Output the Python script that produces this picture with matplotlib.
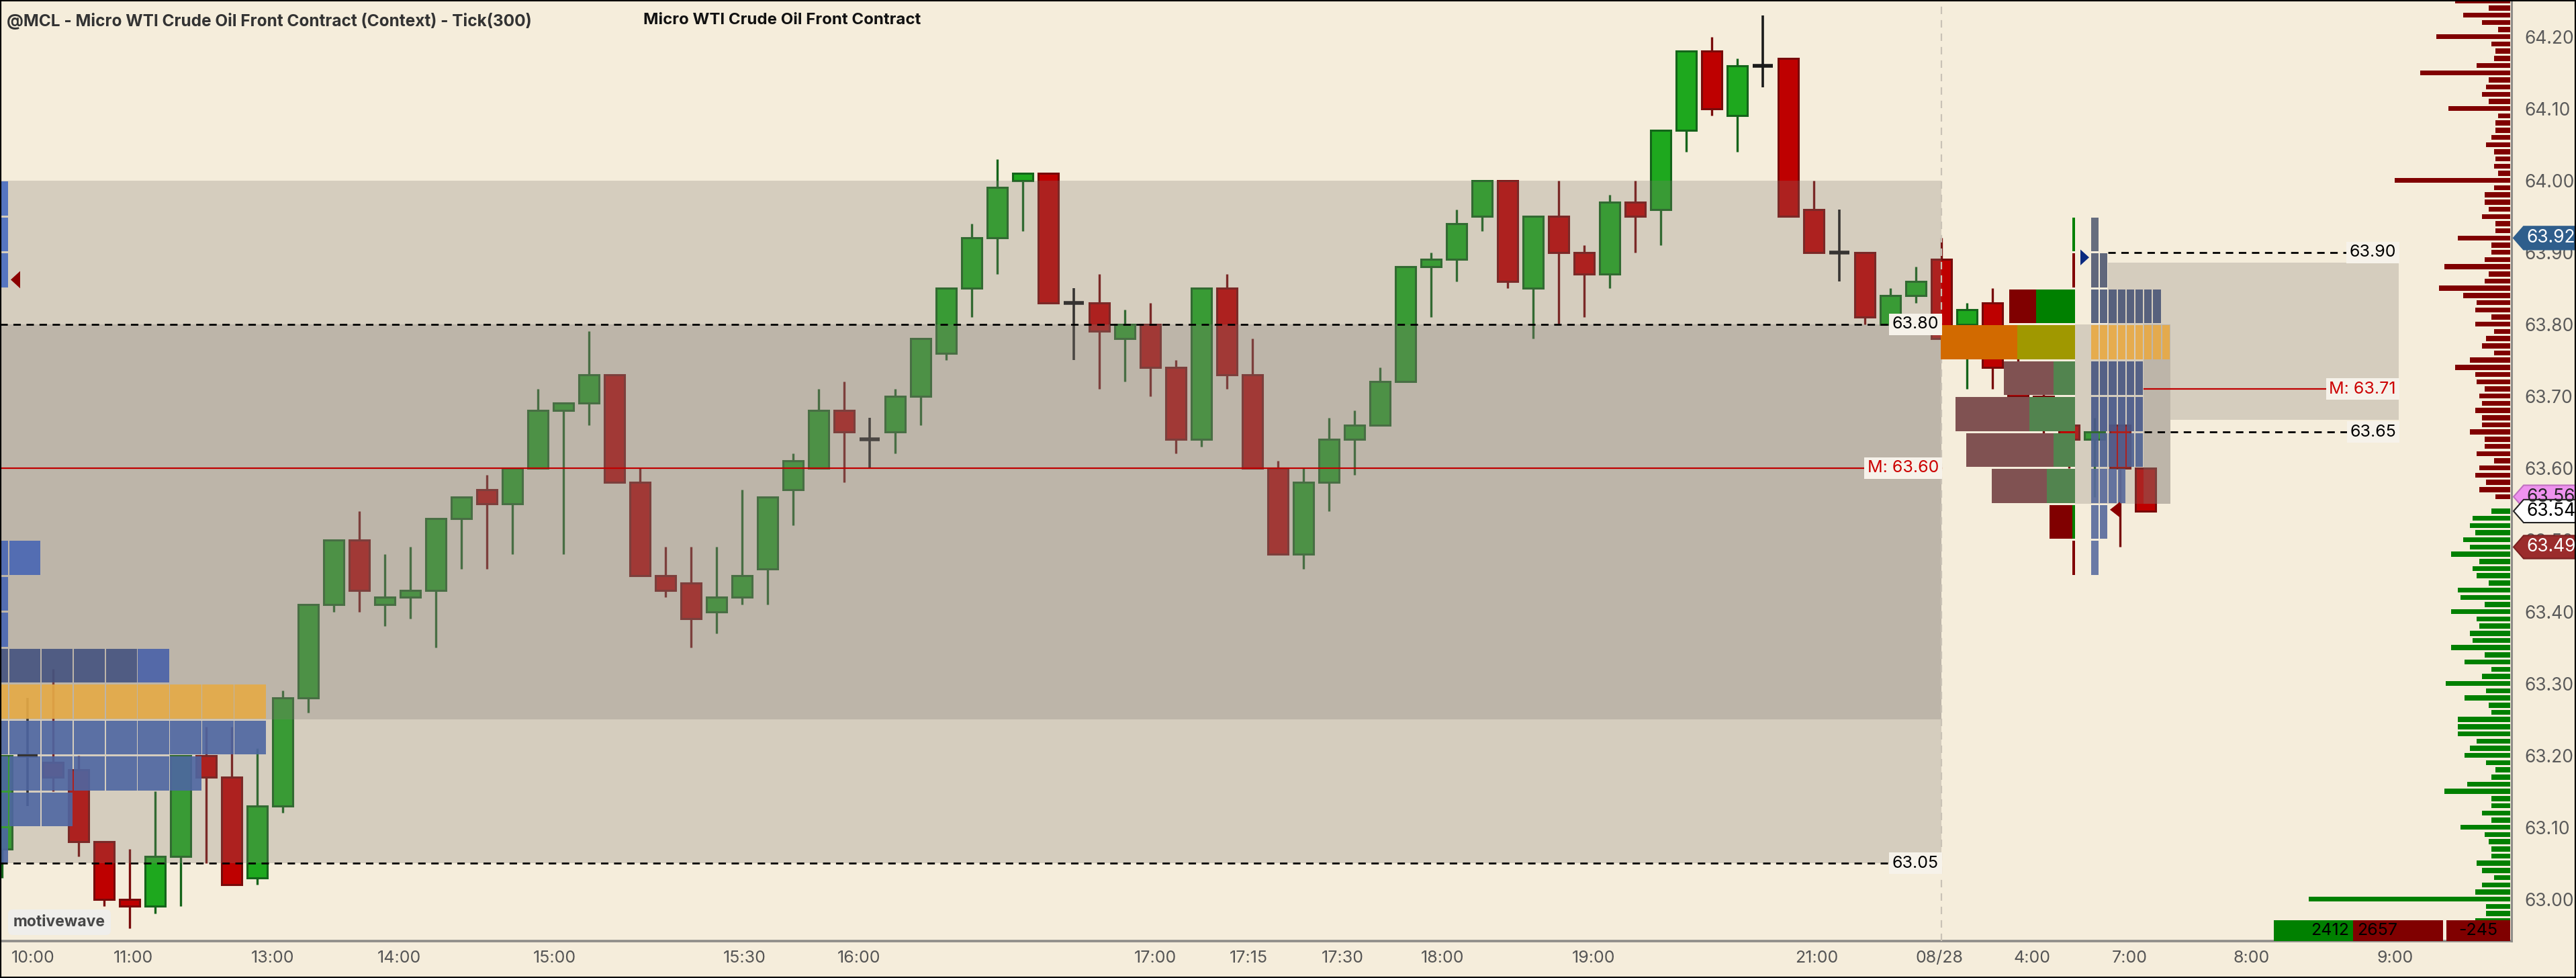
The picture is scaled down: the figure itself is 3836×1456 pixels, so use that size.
import numpy as np
import matplotlib.pyplot as plt
from matplotlib.patches import Rectangle, Polygon

plt.rcParams['font.family'] = ['Inter', 'DejaVu Sans']

# ---------------- data ----------------
opens = [63.07, 63.20, 63.19, 63.18, 63.08, 63.00, 62.99, 63.06, 63.20, 63.17,
         63.03, 63.13, 63.28, 63.41, 63.50, 63.41, 63.42, 63.43, 63.53, 63.57,
         63.55, 63.60, 63.68, 63.69, 63.73, 63.58, 63.45, 63.44, 63.40, 63.42,
         63.46, 63.57, 63.60, 63.68, 63.64, 63.65, 63.70, 63.76, 63.85, 63.92,
         64.00, 64.01, 63.83, 63.83, 63.78, 63.80, 63.74, 63.64, 63.85, 63.73,
         63.60, 63.48, 63.58, 63.64, 63.66, 63.72, 63.88, 63.89, 63.95, 64.00,
         63.85, 63.95, 63.90, 63.87, 63.97, 63.96, 64.07, 64.18, 64.09, 64.16,
         64.17, 63.96, 63.90, 63.90, 63.80, 63.84, 63.89, 63.80, 63.83, 63.74,
         63.70, 63.66, 63.64, 63.66, 63.60]
highs = [63.20, 63.28, 63.32, 63.20, 63.08, 63.07, 63.15, 63.20, 63.24, 63.24,
         63.21, 63.29, 63.41, 63.50, 63.54, 63.48, 63.49, 63.53, 63.56, 63.59,
         63.60, 63.71, 63.69, 63.79, 63.73, 63.60, 63.49, 63.49, 63.49, 63.57,
         63.56, 63.62, 63.71, 63.72, 63.67, 63.71, 63.78, 63.85, 63.94, 64.03,
         64.01, 64.01, 63.85, 63.87, 63.82, 63.83, 63.75, 63.85, 63.87, 63.78,
         63.61, 63.60, 63.67, 63.68, 63.74, 63.88, 63.90, 63.96, 64.00, 64.00,
         63.95, 64.00, 63.91, 63.98, 64.00, 64.07, 64.18, 64.20, 64.17, 64.23,
         64.17, 64.00, 63.96, 63.90, 63.85, 63.88, 63.92, 63.83, 63.85, 63.76,
         63.72, 63.68, 63.67, 63.66, 63.60]
lows = [63.03, 63.13, 63.15, 63.06, 62.99, 62.96, 62.98, 62.99, 63.05, 63.02,
        63.02, 63.12, 63.26, 63.40, 63.40, 63.38, 63.39, 63.35, 63.46, 63.46,
        63.48, 63.60, 63.48, 63.66, 63.58, 63.45, 63.42, 63.35, 63.37, 63.41,
        63.41, 63.52, 63.60, 63.58, 63.60, 63.62, 63.66, 63.75, 63.81, 63.87,
        63.93, 63.83, 63.75, 63.71, 63.72, 63.70, 63.62, 63.63, 63.71, 63.60,
        63.48, 63.46, 63.54, 63.59, 63.66, 63.72, 63.81, 63.86, 63.93, 63.85,
        63.78, 63.80, 63.81, 63.85, 63.90, 63.91, 64.04, 64.09, 64.04, 64.13,
        63.95, 63.90, 63.86, 63.80, 63.80, 63.83, 63.78, 63.71, 63.71, 63.66,
        63.62, 63.60, 63.56, 63.49, 63.54]
closes = [63.20, 63.20, 63.17, 63.08, 63.00, 62.99, 63.06, 63.20, 63.17, 63.02,
          63.13, 63.28, 63.41, 63.50, 63.43, 63.42, 63.43, 63.53, 63.56, 63.55,
          63.60, 63.68, 63.69, 63.73, 63.58, 63.45, 63.43, 63.39, 63.42, 63.45,
          63.56, 63.61, 63.68, 63.65, 63.64, 63.70, 63.78, 63.85, 63.92, 63.99,
          64.01, 63.83, 63.83, 63.79, 63.80, 63.74, 63.64, 63.85, 63.73, 63.60,
          63.48, 63.58, 63.64, 63.66, 63.72, 63.88, 63.89, 63.94, 64.00, 63.86,
          63.95, 63.90, 63.87, 63.97, 63.95, 64.07, 64.18, 64.10, 64.16, 64.16,
          63.95, 63.90, 63.90, 63.81, 63.84, 63.86, 63.78, 63.82, 63.74, 63.70,
          63.66, 63.64, 63.65, 63.60, 63.54]

time_ticks = [1.22, 5.14, 10.61, 15.56, 21.66, 29.11, 33.58, 45.19, 48.85,
              52.53, 56.45, 62.37, 71.11, 75.93, 79.56, 83.37, 88.16, 93.79]
time_labels = ['10:00', '11:00', '13:00', '14:00', '15:00', '15:30', '16:00',
               '17:00', '17:15', '17:30', '18:00', '19:00', '21:00', '08/28',
               '4:00', '7:00', '8:00', '9:00']
price_ticks = [63.00, 63.10, 63.20, 63.30, 63.40, 63.50, 63.60, 63.70,
               63.80, 63.90, 64.00, 64.10, 64.20]

# prior session context levels
ctx_high, ctx_low = 64.00, 63.05
ib_high, ib_low = 63.80, 63.25
ctx_mid = 63.60
session_break = 76.0

# prior-session profile peeking in at the left edge (row low, cells)
prev_rows = [63.95, 63.90, 63.85, 63.45, 63.40, 63.35, 63.30, 63.25, 63.20,
             63.15, 63.10, 63.05]
prev_cells = [1, 1, 1, 2, 1, 1, 6, 9, 9, 7, 3, 1]

# current session volume profile (row low, sell, buy) and TPO counts
cur_rows = [63.90, 63.85, 63.80, 63.75, 63.70, 63.65, 63.60, 63.55, 63.50, 63.45]
cur_sell = [0, 4, 40, 114, 74, 110, 130, 82, 34, 4]
cur_buy = [4, 0, 58, 86, 32, 68, 32, 42, 4, 0]
tpo_counts = [1, 2, 8, 9, 6, 6, 6, 4, 2, 1]
cur_va_high, cur_va_low = 63.80, 63.55
dev_high, dev_low = 63.886, 63.667
dev_top_line, dev_bottom_line, dev_mid = 63.90, 63.65, 63.71

# right-edge volume by price
vbp_prices = np.round(np.arange(64.25, 62.965, -0.01), 2)
vbp_vols = [246, 96, 210, 126, 54, 330, 84, 66, 72, 150, 402, 96, 108, 126, 96,
            276, 54, 66, 66, 84, 108, 72, 66, 72, 54, 516, 72, 114, 114, 96,
            126, 66, 66, 234, 84, 84, 114, 294, 96, 114, 318, 210, 150, 156, 84,
            156, 72, 108, 126, 72, 180, 246, 156, 150, 114, 138, 126, 156, 126,
            126, 180, 114, 114, 150, 72, 138, 156, 108,
            138, 66, 0, 84, 168, 180, 156, 210, 180, 264, 138, 168, 150, 96,
            234, 222, 114, 264, 150, 138, 180, 168, 264, 114, 204, 84, 126, 288,
            108, 204, 96, 84, 234, 234, 234, 150, 180, 204, 108, 66, 84, 192,
            294, 84, 84, 126, 84, 222, 114, 96, 84, 84, 150, 126, 72, 126, 156,
            900, 108, 108, 156]

badges = [(63.92, '63.92', '#2F5E8C', 'white', '#2F5E8C'),
          (63.56, '63.56', '#EE92EE', '#222222', '#C070C0'),
          (63.54, '63.54', 'white', 'black', '#222222'),
          (63.49, '63.49', '#9B2C2C', 'white', '#7A2020')]
stats_values = ['2412', '2657', '-245']

# ---------------- layout helpers (pixel -> bar index) ----------------
X0, PITCH = 2.8, 38.0


def xi(px):
    return (px - X0) / PITCH


BG = '#F5EDDB'
SHADE = '#827A73'
GREEN, GREEN_E = '#1EA81E', '#14641A'
RED, RED_E = '#BE0000', '#780A0A'

fig = plt.figure(figsize=(38.36, 14.56), dpi=100, facecolor=BG)
ax = fig.add_axes([0, 1 - 1401 / 1456, 3740 / 3836, 1399 / 1456])
ax.set_facecolor(BG)
ax.set_xlim(xi(0), xi(3740))
ax.set_ylim(62.9418, 64.2493)

# candles
bw = 0.8
for i, (o, h, l, c) in enumerate(zip(opens, highs, lows, closes)):
    if abs(c - o) < 1e-9:
        ax.plot([i, i], [l, h], color='#1A1A1A', lw=2.6, zorder=2, solid_capstyle='butt')
        ax.plot([i - bw / 2, i + bw / 2], [o, o], color='#1A1A1A', lw=4, zorder=2,
                solid_capstyle='butt')
        continue
    fc, ec = (GREEN, GREEN_E) if c > o else (RED, RED_E)
    ax.plot([i, i], [l, h], color=ec, lw=2.4, zorder=2, solid_capstyle='butt')
    ax.add_patch(Rectangle((i - bw / 2, min(o, c)), bw, abs(c - o), facecolor=fc,
                           edgecolor=ec, lw=2.2, zorder=2.1))

# prior-session context shading (drawn over candles, translucent)
ax.add_patch(Rectangle((xi(0), ctx_low), session_break - xi(0), ctx_high - ctx_low,
                       facecolor=SHADE, alpha=0.28, lw=0, zorder=3))
ax.add_patch(Rectangle((xi(0), ib_low), session_break - xi(0), ib_high - ib_low,
                       facecolor=SHADE, alpha=0.28, lw=0, zorder=3))

# current-session shading
ax.add_patch(Rectangle((xi(3090), cur_va_low), xi(3232) - xi(3090), cur_va_high - cur_va_low,
                       facecolor=SHADE, alpha=0.28, lw=0, zorder=3))
ax.add_patch(Rectangle((xi(3192), cur_va_low), xi(3232) - xi(3192), cur_va_high - cur_va_low,
                       facecolor=SHADE, alpha=0.28, lw=0, zorder=3))
ax.add_patch(Rectangle((xi(3139), cur_va_high), xi(3572) - xi(3139), dev_high - cur_va_high,
                       facecolor=SHADE, alpha=0.28, lw=0, zorder=3))
ax.add_patch(Rectangle((xi(3232), dev_low), xi(3572) - xi(3232), cur_va_high - dev_low,
                       facecolor=SHADE, alpha=0.28, lw=0, zorder=3))

# session divider
ax.axvline(session_break, color='#C9C2B6', lw=1.6, ls=(0, (5, 4)), zorder=3.5)

lbl_font = dict(fontsize=18, va='center', zorder=6)
box = dict(boxstyle='square,pad=0.18', fc='#F6F2EA', ec='none')

# prior session levels
for lvl in (ib_high, ctx_low):
    ax.plot([xi(0), session_break], [lvl, lvl], color='black', lw=2, ls=(0, (4, 3)), zorder=4)
    ax.text(xi(2887), lvl, f'{lvl:.2f}', ha='right', color='black', bbox=box, **lbl_font)
ax.plot([xi(0), session_break], [ctx_mid, ctx_mid], color='#C00000', lw=1.6, zorder=4)
ax.text(xi(2887), ctx_mid, f'M: {ctx_mid:.2f}', ha='right', color='#CC0000', bbox=box, **lbl_font)

# current session levels
ax.plot([xi(3139), xi(3498)], [dev_top_line] * 2, color='black', lw=2, ls=(0, (4, 3)), zorder=4)
ax.plot([xi(3193), xi(3498)], [dev_bottom_line] * 2, color='black', lw=2, ls=(0, (4, 3)), zorder=4)
ax.plot([xi(3193), xi(3473)], [dev_mid] * 2, color='#C00000', lw=1.6, zorder=4)
for lvl in (dev_top_line, dev_bottom_line):
    ax.text(xi(3568), lvl, f'{lvl:.2f}', ha='right', color='black', bbox=box, **lbl_font)
ax.text(xi(3568), dev_mid, f'M: {dev_mid:.2f}', ha='right', color='#CC0000', bbox=box, **lbl_font)

# prior-session profile cells at the left edge
cell_pitch = 47.9 / PITCH
cell_w = 46.4 / PITCH
cell_x0 = xi(-34.1)
for low, n in zip(prev_rows, prev_cells):
    for k in range(n):
        if low == 63.25:
            col = '#E6AA45'
        elif low == 63.30:
            col = '#44537F' if k < 5 else '#4961A8'
        elif low >= 63.85:
            col = '#486CC2'
        elif low >= 63.35:
            col = '#4866B4'
        else:
            col = '#4E66A2'
        ax.add_patch(Rectangle((cell_x0 + k * cell_pitch, low + 0.0015), cell_w, 0.047,
                               facecolor=col, lw=0, alpha=0.9, zorder=5))

# current session volume profile (sell left, buy right, anchored)
anchor = xi(3090)
vscale = 1 / PITCH
for low, s, b in zip(cur_rows, cur_sell, cur_buy):
    if low == 63.75:
        sc, bc = '#D26A00', '#A09800'
    elif 63.55 <= low <= 63.70:
        sc, bc = '#805252', '#52844F'
    else:
        sc, bc = '#800000', '#008000'
    ax.add_patch(Rectangle((anchor - (s + b) * vscale, low + 0.0015), s * vscale, 0.047,
                           facecolor=sc, lw=0, zorder=5))
    ax.add_patch(Rectangle((anchor - b * vscale, low + 0.0015), b * vscale, 0.047,
                           facecolor=bc, lw=0, zorder=5))

# TPO cells
tpo_x0 = xi(3114)
tpo_pitch = 13.2 / PITCH
tpo_w = 11.2 / PITCH
tpo_cols = {63.90: '#5A6276', 63.85: '#535C74', 63.80: '#4C5878', 63.75: '#E8AA45',
            63.70: '#4A5882', 63.65: '#4A5A8A', 63.60: '#4F6292', 63.55: '#5A6C9C',
            63.50: '#5A6C9E', 63.45: '#5E70A2'}
for low, n in zip(cur_rows, tpo_counts):
    for k in range(n):
        ax.add_patch(Rectangle((tpo_x0 + k * tpo_pitch, low + 0.0015), tpo_w, 0.047,
                               facecolor=tpo_cols[low], lw=0, alpha=0.92, zorder=5))

# small markers
ax.add_patch(Polygon([[xi(16), 63.862], [xi(30), 63.874], [xi(30), 63.850]],
                     closed=True, fc='#8B0000', ec='none', zorder=6))
ax.add_patch(Polygon([[xi(3111), 63.893], [xi(3098), 63.904], [xi(3098), 63.882]],
                     closed=True, fc='#0A2A80', ec='none', zorder=6))
ax.add_patch(Polygon([[xi(3142), 63.542], [xi(3157), 63.553], [xi(3157), 63.531]],
                     closed=True, fc='#8B0000', ec='none', zorder=6))

# volume by price on the right edge
vb_right = xi(3738)
vb_scale = 0.333 / PITCH
for p, v in zip(vbp_prices, vbp_vols):
    if v <= 0:
        continue
    col = '#800000' if p >= 63.555 else '#008000'
    ax.add_patch(Rectangle((vb_right - v * vb_scale, p - 0.0035), v * vb_scale, 0.007,
                           facecolor=col, lw=0, zorder=4))

# stats boxes at the bottom right
ylo = ax.get_ylim()[0]
bh = 0.029
for (x_a, x_b, col) in [(3386, 3504, '#008000'), (3504, 3638, '#800000'),
                        (3643, 3738, '#800000')]:
    ax.add_patch(Rectangle((xi(x_a), ylo), xi(x_b) - xi(x_a), bh, facecolor=col,
                           lw=0, zorder=6))
ax.text(xi(3498), ylo + bh / 2, stats_values[0], ha='right', va='center', fontsize=18,
        color='black', zorder=7)
ax.text(xi(3510), ylo + bh / 2, stats_values[1], ha='left', va='center', fontsize=18,
        color='black', zorder=7)
ax.text(xi(3690), ylo + bh / 2, stats_values[2], ha='center', va='center', fontsize=18,
        color='black', zorder=7)

# axes styling
ax.set_yticks(price_ticks)
ax.set_yticklabels([f'{p:.2f}' for p in price_ticks])
ax.yaxis.tick_right()
ax.tick_params(axis='y', length=0, pad=14, labelsize=19, labelcolor='#5A5A5A')
ax.set_xticks(time_ticks)
ax.set_xticklabels(time_labels)
ax.tick_params(axis='x', length=0, pad=10, labelsize=18, labelcolor='#555555')
for s in ('top', 'left'):
    ax.spines[s].set_visible(False)
ax.spines['bottom'].set_color('#8E8C88')
ax.spines['bottom'].set_linewidth(2.6)
ax.spines['right'].set_color('#8E8C88')
ax.spines['right'].set_linewidth(2.2)

# price badges beyond the right axis
hh = 0.016
for p, txt, fc, tc, ec in badges:
    poly = Polygon([[xi(3743), p], [xi(3758), p + hh], [xi(3836), p + hh],
                    [xi(3836), p - hh], [xi(3758), p - hh]], closed=True,
                   fc=fc, ec=ec, lw=1.5, clip_on=False, zorder=8)
    ax.add_patch(poly)
    ax.text(xi(3762), p, txt, ha='left', va='center', fontsize=19, color=tc,
            clip_on=False, zorder=9)

# titles and watermark
fig.text(10 / 3836, 1 - 32 / 1456,
         '@MCL - Micro WTI Crude Oil Front Contract (Context) - Tick(300)',
         fontsize=17.6, fontweight='bold', color='#333333', va='center', ha='left')
fig.text(958 / 3836, 1 - 30 / 1456, 'Micro WTI Crude Oil Front Contract',
         fontsize=17.3, fontweight='bold', color='#111111', va='center', ha='left')
fig.text(20 / 3836, 1 - 1373 / 1456, 'motivewave', fontsize=16.5, fontweight='bold',
         color='#474747', va='center', ha='left', zorder=10,
         bbox=dict(boxstyle='round,pad=0.35,rounding_size=0.3', fc='#EFEEEB', ec='none'))

# outer frame
fig.add_artist(Rectangle((0, 0), 1, 1, transform=fig.transFigure, fill=False,
                         ec='black', lw=3, zorder=20))

fig.savefig('out.png', dpi=100, facecolor=BG)
